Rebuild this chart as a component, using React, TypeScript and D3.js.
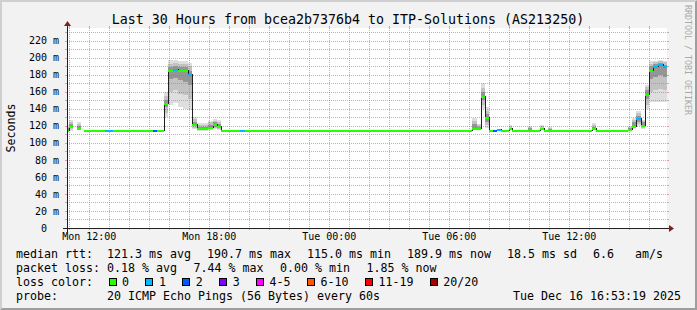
import React from 'react';
import * as d3 from 'd3';

const W = 697;
const H = 310;
const START = new Date(2025, 11, 15, 10, 53, 19);
const END = new Date(2025, 11, 16, 16, 53, 19);

// step start (minutes after START)
const stepMinutes = [0, 6, 18, 30, 42, 51, 114, 138, 258, 270, 291, 303, 318, 333, 348, 363, 375, 390, 423, 438, 450, 462, 519, 534,
  1215, 1230, 1242, 1254, 1266, 1278, 1290, 1302, 1326, 1335, 1383, 1395, 1419, 1431, 1443, 1455, 1575, 1587,
  1683, 1695, 1707, 1722, 1734, 1746, 1758, 1773, 1788];
// median rtt in ms (null = no data)
const median: (number | null)[] = [115, 120, null, 117, null, 115, 115, 115, 115, 115, 147, 185.5, 187, 186, 186, 181, 122, 117, 119, 122, 120, 115, 115, 115,
  118, 117, 155, 130, 115, 115, 116, 115, 117, 115, 115, 115, 117, 115, 115, 115, 117, 115,
  116.5, 120, 129, 121, 157, 185.6, 190.6, 192.6, 190.6];
// packet loss class index (0 = 0, 1 = 1, 2 = 2, ...)
const lossIdx = [0, 0, 0, 0, 0, 0, 1, 0, 2, 0, 0, 0, 1, 0, 0, 1, 0, 0, 0, 0, 0, 0, 1, 0,
  0, 0, 0, 0, 0, 2, 1, 0, 0, 0, 0, 0, 0, 0, 0, 0, 0, 0,
  0, 0, 1, 0, 0, 0, 1, 1, 1];
// smoke distribution (ms)
const smokeMin = [114, 114, 0, 115, 0, 115, 115, 115, 115, 115, 130, 145, 147, 142, 140, 139, 116, 114, 115, 116, 115, 115, 115, 115,
  115, 115, 140, 118, 115, 115, 116, 115, 115, 115, 115, 115, 115, 115, 115, 115, 115, 115,
  115, 116, 120, 116, 140, 148, 148, 148, 148];
const smokeP10 = [114, 116, 0, 116, 0, 115, 115, 115, 115, 115, 135, 160, 162, 158, 156, 152, 118, 115, 116, 117, 116, 115, 115, 115,
  116, 115, 145, 121, 115, 115, 116, 115, 115, 115, 115, 115, 115, 115, 115, 115, 115, 115,
  115, 117, 122, 118, 145, 160, 162, 163, 162];
const smokeP25 = [115, 118, 0, 117, 0, 115, 115, 115, 115, 115, 142, 175, 176, 174, 172, 168, 120, 116, 117, 119, 118, 115, 115, 115,
  117, 116, 150, 125, 115, 115, 116, 115, 116, 115, 115, 115, 116, 115, 115, 115, 116, 115,
  116, 118, 125, 119, 152, 175, 178, 180, 178];
const smokeP75 = [117, 122, 0, 120, 0, 115, 115, 115, 115, 115, 150, 189, 190, 189, 189, 185, 125, 119, 121, 124, 122, 115, 115, 115,
  122, 119, 160, 134, 115, 115, 116, 115, 118, 115, 117, 115, 118, 115, 116, 115, 119, 115,
  118, 124, 132, 124, 162, 190, 193, 194, 192];
const smokeP90 = [119, 124, 0, 122, 0, 115, 115, 115, 115, 115, 155, 193, 194, 193, 193, 190, 128, 121, 124, 126, 125, 115, 115, 115,
  126, 121, 165, 138, 115, 115, 116, 115, 120, 115, 119, 115, 120, 115, 118, 115, 121, 115,
  119, 127, 135, 126, 166, 193, 195, 196, 195];
const smokeMax = [121, 127, 0, 124, 0, 115, 115, 115, 115, 115, 160, 197, 197, 196, 196, 194, 131, 123, 126, 128, 127, 115, 115, 115,
  129, 122, 170, 142, 115, 115, 116, 115, 121, 115, 120, 115, 121, 115, 119, 115, 123, 115,
  120, 129, 137, 127, 168, 196, 196, 197, 196];

const yMinorTicks = [0, 10, 20, 30, 40, 50, 60, 70, 80, 90, 100, 110, 120, 130, 140, 150, 160, 170, 180, 190, 200, 210, 220, 230];
const yMajorTicks = [0, 20, 40, 60, 80, 100, 120, 140, 160, 180, 200, 220];
const yTickLabels = ['0', '20 m', '40 m', '60 m', '80 m', '100 m', '120 m', '140 m', '160 m', '180 m', '200 m', '220 m'];
const xLabelTimes = [new Date(2025, 11, 15, 12), new Date(2025, 11, 15, 18), new Date(2025, 11, 16, 0), new Date(2025, 11, 16, 6), new Date(2025, 11, 16, 12)];
const xLabels = ['Mon 12:00', 'Mon 18:00', 'Tue 00:00', 'Tue 06:00', 'Tue 12:00'];

const lossLabels = ['0', '1', '2', '3', '4-5', '6-10', '11-19', '20/20'];
const lossColors = ['#26ff00', '#00b8ff', '#0059ff', '#7e00ff', '#ff00ff', '#ff5500', '#ff0000', '#a10000'];

const title = 'Last 30 Hours from bcea2b7376b4 to ITP-Solutions (AS213250)';
const rttItems = ['121.3 ms avg', '190.7 ms max', '115.0 ms min', '189.9 ms now', '18.5 ms sd', '6.6'];
const rttUnit = 'am/s';
const lossItems = ['0.18 % avg', '7.44 % max', '0.00 % min', '1.85 % now'];
const probeText = '20 ICMP Echo Pings (56 Bytes) every 60s';
const stampText = 'Tue Dec 16 16:53:19 2025';

const FONT = '"DejaVu Sans Mono", monospace';
const X0 = 67, X1 = 667, Y0 = 228, Y1 = 28;
const CW = 7.0;
const LFS = 11.63;

export default function App() {
  const x = d3.scaleTime().domain([START, END]).range([X0, X1]);
  const y = d3.scaleLinear().domain([0, 235]).range([Y0, Y1]);

  const steps = stepMinutes.map((m, i) => {
    const t0 = d3.timeMinute.offset(START, m);
    const t1 = i + 1 < stepMinutes.length ? d3.timeMinute.offset(START, stepMinutes[i + 1]) : END;
    return { x0: x(t0), x1: x(t1), i };
  });

  const band = (lo: number[], hi: number[], fill: string, key: string) =>
    steps.filter(s => median[s.i] !== null && hi[s.i] > lo[s.i]).map(s => (
      <rect key={key + s.i} x={s.x0} width={s.x1 - s.x0} y={y(hi[s.i])} height={y(lo[s.i]) - y(hi[s.i])} fill={fill} />
    ));

  const linePts: ({ x: number; y: number } | null)[] = [];
  steps.forEach(s => {
    const v = median[s.i];
    if (v === null) { linePts.push(null); return; }
    const yy = Math.round(y(v)) + 0.5;
    linePts.push({ x: s.x0, y: yy }, { x: s.x1, y: yy });
  });
  const medLine = d3.line<any>().defined(d => d !== null).x(d => d.x).y(d => d.y)(linePts as any) || '';

  const hourTicks = d3.timeHour.range(START, END);
  const major3 = d3.timeHour.every(3)!.range(START, END);

  const minorGrid = 'rgba(143,143,143,0.65)';
  const majorGrid = 'rgba(222,79,79,0.55)';

  // legend positions
  const rttX: number[] = [];
  let cx = 107;
  rttItems.forEach(s => { rttX.push(cx); cx += s.length * CW + 16; });
  const lossX: number[] = [];
  cx = 107;
  lossItems.forEach(s => { lossX.push(cx); cx += s.length * CW + 16.5; });
  const boxX: number[] = [];
  cx = 108.5;
  lossLabels.forEach(s => { boxX.push(cx); cx += 29.9 + s.length * CW; });

  const pre = { whiteSpace: 'pre' as const };

  return (
    <svg width={W} height={H} style={{ position: 'absolute', left: 0, top: 0 }} fontFamily={FONT}>
      <rect x={0} y={0} width={W} height={H} fill="#f2f2f2" />
      <polygon points={`0,0 ${W},0 ${W - 2},2 2,2 2,${H - 2} 0,${H}`} fill="#cfcfcf" />
      <polygon points={`${W},0 ${W},${H} 0,${H} 2,${H - 2} ${W - 2},${H - 2} ${W - 2},2`} fill="#9e9e9e" />
      <rect x={X0} y={Y1} width={X1 - X0} height={Y0 - Y1} fill="#ffffff" />

      <g shapeRendering="crispEdges">
        {band(smokeMin, smokeMax, '#dedede', 'a')}
        {band(smokeP10, smokeP90, '#c2c2c2', 'b')}
        {band(smokeP25, smokeP75, '#959595', 'c')}
      </g>

      {/* grid */}
      <g shapeRendering="crispEdges" strokeWidth={1}>
        {yMinorTicks.filter(v => v % 20 !== 0).map(v => (
          <g key={'ym' + v}>
            <line x1={X0} x2={X1} y1={Math.round(y(v)) + 0.5} y2={Math.round(y(v)) + 0.5} stroke={minorGrid} strokeDasharray="1,1" />
            <line x1={X0 - 2} x2={X0} y1={Math.round(y(v)) + 0.5} y2={Math.round(y(v)) + 0.5} stroke={minorGrid} />
            <line x1={X1} x2={X1 + 2} y1={Math.round(y(v)) + 0.5} y2={Math.round(y(v)) + 0.5} stroke={minorGrid} />
          </g>
        ))}
        {hourTicks.filter(t => t.getHours() % 3 !== 0).map(t => (
          <g key={'xm' + t.getTime()}>
            <line x1={Math.round(x(t)) + 0.5} x2={Math.round(x(t)) + 0.5} y1={Y1} y2={Y0} stroke={minorGrid} strokeDasharray="1,1" />
            <line x1={Math.round(x(t)) + 0.5} x2={Math.round(x(t)) + 0.5} y1={Y0} y2={Y0 + 2} stroke={minorGrid} />
            <line x1={Math.round(x(t)) + 0.5} x2={Math.round(x(t)) + 0.5} y1={Y1 - 2} y2={Y1} stroke={minorGrid} />
          </g>
        ))}
        {yMajorTicks.filter(v => v > 0).map(v => (
          <g key={'yM' + v}>
            <line x1={X0} x2={X1} y1={Math.round(y(v)) + 0.5} y2={Math.round(y(v)) + 0.5} stroke={majorGrid} strokeDasharray="1,1" />
            <line x1={X0 - 2} x2={X0} y1={Math.round(y(v)) + 0.5} y2={Math.round(y(v)) + 0.5} stroke={majorGrid} />
            <line x1={X1} x2={X1 + 2} y1={Math.round(y(v)) + 0.5} y2={Math.round(y(v)) + 0.5} stroke={majorGrid} />
          </g>
        ))}
        {major3.map(t => (
          <g key={'xM' + t.getTime()}>
            <line x1={Math.round(x(t)) + 0.5} x2={Math.round(x(t)) + 0.5} y1={Y1} y2={Y0} stroke={majorGrid} strokeDasharray="1,1" />
            <line x1={Math.round(x(t)) + 0.5} x2={Math.round(x(t)) + 0.5} y1={Y0} y2={Y0 + 2} stroke={majorGrid} />
            <line x1={Math.round(x(t)) + 0.5} x2={Math.round(x(t)) + 0.5} y1={Y1 - 2} y2={Y1} stroke={majorGrid} />
          </g>
        ))}
      </g>

      {/* median */}
      <path d={medLine} fill="none" stroke="#202020" strokeWidth={1} shapeRendering="crispEdges" />
      <g shapeRendering="crispEdges">
        {steps.filter(s => median[s.i] !== null).map(s => (
          <rect key={'m' + s.i} x={s.x0} width={s.x1 - s.x0} y={Math.round(y(median[s.i] as number)) - 0.5} height={2}
            fill={lossColors[lossIdx[s.i]]} />
        ))}
      </g>

      {/* axes */}
      <g shapeRendering="crispEdges">
        <line x1={X0 - 4} x2={X1 + 4} y1={Y0 + 0.5} y2={Y0 + 0.5} stroke="#1f1f1f" />
        <line x1={X0 + 0.5} x2={X0 + 0.5} y1={Y0 + 4} y2={Y1 - 4} stroke="#1f1f1f" />
      </g>
      <polygon points={`${X1 + 2},${Y0 - 3} ${X1 + 2},${Y0 + 4} ${X1 + 7},${Y0 + 0.5}`} fill="#801f1f" />
      <polygon points={`${X0 - 3},${Y1 - 2} ${X0 + 4},${Y1 - 2} ${X0 + 0.5},${Y1 - 7}`} fill="#801f1f" />

      {/* axis labels */}
      <g fontSize={10} fill="#000">
        {yMajorTicks.map((v, i) => (
          <text key={'yl' + v} x={v === 0 ? 59 - 2 * 6.02 : 59} y={y(v) + 3.6} textAnchor="end" style={pre}>{yTickLabels[i]}</text>
        ))}
        {xLabelTimes.map((t, i) => (
          <text key={'xl' + i} x={x(t)} y={240.3} textAnchor="middle">{xLabels[i]}</text>
        ))}
      </g>

      <text x={348} y={24} fontSize={13.3} textAnchor="middle" fill="#000" style={pre}>{title}</text>
      <text transform={`translate(15,${(Y0 + Y1) / 2}) rotate(-90)`} fontSize={LFS} textAnchor="middle" fill="#000">Seconds</text>
      <text transform="translate(685,5) rotate(90)" fontSize={8.3} fill="#a9a9a9" style={pre}>RRDTOOL / TOBI OETIKER</text>

      {/* legend */}
      <g fontSize={LFS} fill="#000">
        <text x={16} y={258}>median rtt:</text>
        {rttItems.map((s, i) => <text key={'r' + i} x={rttX[i]} y={258}>{s}</text>)}
        <text x={635} y={258}>{rttUnit}</text>
        <text x={16} y={272}>packet loss:</text>
        {lossItems.map((s, i) => <text key={'p' + i} x={lossX[i]} y={272}>{s}</text>)}
        <text x={16} y={285.7}>loss color:</text>
        {lossLabels.map((s, i) => (
          <g key={'lc' + i}>
            <rect x={Math.round(boxX[i]) + 0.5} y={278.5} width={7} height={7} fill={lossColors[i]} stroke="#000" strokeWidth={1} shapeRendering="crispEdges" />
            <text x={boxX[i] + 13.5} y={285.7}>{s}</text>
          </g>
        ))}
        <text x={16} y={299.5}>probe:</text>
        <text x={107} y={299.5}>{probeText}</text>
        <text x={513} y={299.5}>{stampText}</text>
      </g>
    </svg>
  );
}
